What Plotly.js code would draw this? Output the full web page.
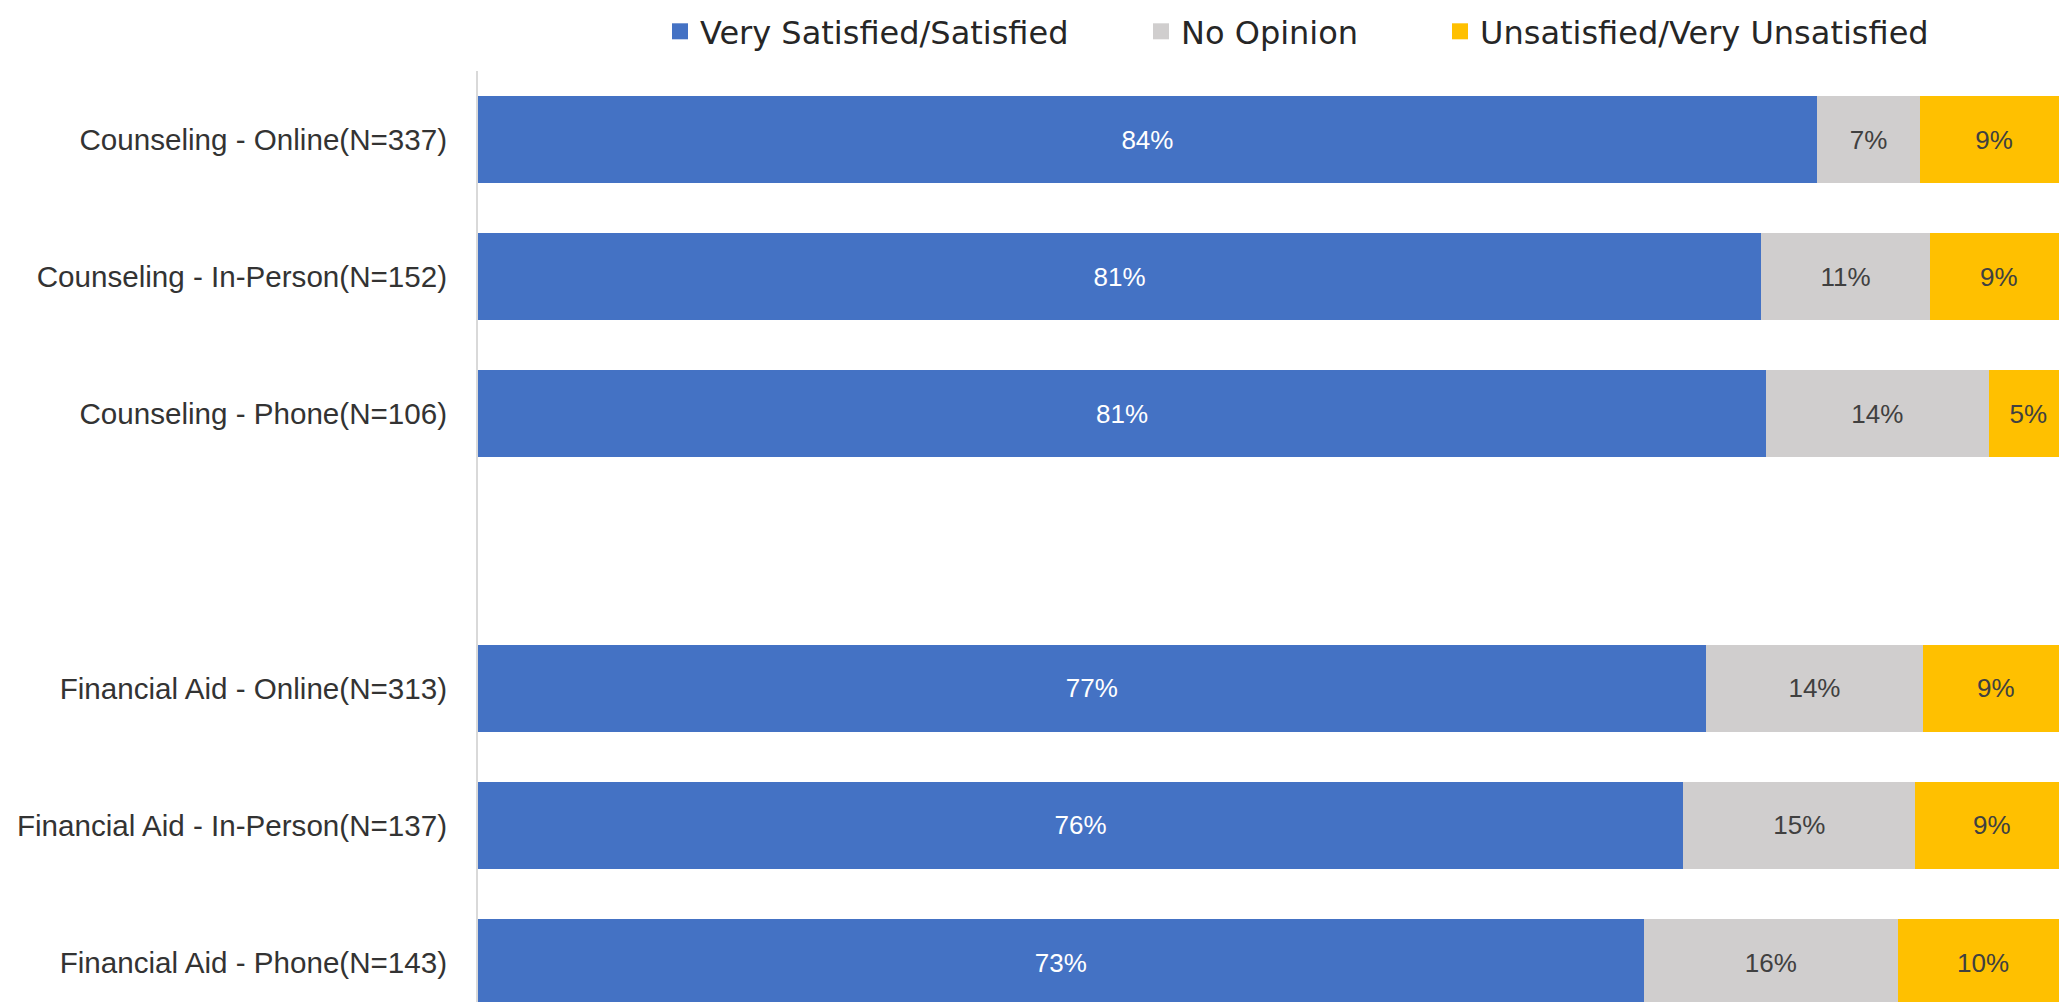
<!DOCTYPE html>
<html>
<head>
<meta charset="utf-8">
<script src="https://cdn.plot.ly/plotly-3.0.1.min.js"></script>
<style>
html, body { margin: 0; padding: 0; overflow: hidden; background: #ffffff; }
#chart { width: 2059px; height: 1002px; }
</style>
</head>
<body>
<div id="chart"></div>
<script>
// Categories (top to bottom); the blank entry is the empty gap row
const categories = [
  "Counseling - Online(N=337)",
  "Counseling - In-Person(N=152)",
  "Counseling - Phone(N=106)",
  " ",
  "Financial Aid - Online(N=313)",
  "Financial Aid - In-Person(N=137)",
  "Financial Aid - Phone(N=143)"
];

// Series values (percent)
const satisfied   = [84.2, 80.7, 81.0, null, 77.2, 75.8, 73.3];
const noOpinion   = [6.5, 10.6, 14.0, null, 13.7, 14.6, 16.0];
const unsatisfied = [9.3, 8.7, 5.0, null, 9.1, 9.6, 10.7];

// Data labels as printed on the bars
const satisfiedLabels   = ["84%", "81%", "81%", "", "77%", "76%", "73%"];
const noOpinionLabels   = ["7%", "11%", "14%", "", "14%", "15%", "16%"];
const unsatisfiedLabels = ["9%", "9%", "5%", "", "9%", "9%", "10%"];

const seriesNames = ["Very Satisfied/Satisfied", "No Opinion", "Unsatisfied/Very Unsatisfied"];
const seriesColors = ["#4472C4", "#D0CECE", "#FFC000"];
const labelColors = ["#FFFFFF", "#404040", "#404040"];

const values = [satisfied, noOpinion, unsatisfied];
const labels = [satisfiedLabels, noOpinionLabels, unsatisfiedLabels];
const legendIds = ["legend", "legend2", "legend3"];

const traces = [];
for (let i = 0; i < 3; i++) {
  traces.push({
    type: "bar",
    orientation: "h",
    name: seriesNames[i],
    x: values[i],
    y: categories,
    text: labels[i],
    textposition: "inside",
    insidetextanchor: "middle",
    textangle: 0,
    constraintext: "none",
    textfont: { family: "Liberation Sans, Arial, sans-serif", size: 26, color: labelColors[i] },
    marker: { color: seriesColors[i], line: { width: 0 } },
    hoverinfo: "skip",
    showlegend: false
  });
}
// Legend entries (square markers)
for (let i = 0; i < 3; i++) {
  traces.push({
    type: "scatter",
    mode: "markers",
    name: seriesNames[i],
    x: [null],
    y: [null],
    marker: { symbol: "square", size: 16, color: seriesColors[i] },
    legend: legendIds[i],
    hoverinfo: "skip",
    showlegend: true
  });
}

const legendFont = { family: "DejaVu Sans, sans-serif", size: 32, color: "#262626" };
function mkLegend(xpx) {
  return {
    orientation: "h",
    xref: "container", yref: "container",
    x: xpx / 2059, y: 1 - 4 / 1002, xanchor: "left", yanchor: "top",
    font: legendFont,
    bgcolor: "rgba(0,0,0,0)",
    itemwidth: 30,
    itemsizing: "trace"
  };
}

const layout = {
  width: 2059,
  height: 1002,
  paper_bgcolor: "#ffffff",
  plot_bgcolor: "#ffffff",
  margin: { l: 478, r: 0, t: 71, b: 0, pad: 0 },
  barmode: "stack",
  bargap: 0.366,
  showlegend: true,
  legend: mkLegend(660),
  legend2: mkLegend(1141),
  legend3: mkLegend(1440),
  xaxis: {
    range: [0, 99.43],
    showgrid: false,
    zeroline: false,
    showline: false,
    showticklabels: false,
    ticks: ""
  },
  yaxis: {
    type: "category",
    categoryorder: "array",
    categoryarray: categories,
    range: [6.287, -0.5],
    showgrid: false,
    zeroline: false,
    showline: true,
    linecolor: "#D9D9D9",
    linewidth: 2,
    ticks: "",
    ticklabelstandoff: 23,
    tickfont: { family: "Liberation Sans, Arial, sans-serif", size: 29.6, color: "#333333" }
  },
  font: { family: "Liberation Sans, Arial, sans-serif" }
};

Plotly.newPlot("chart", traces, layout, { displayModeBar: false, staticPlot: true });
</script>
</body>
</html>
